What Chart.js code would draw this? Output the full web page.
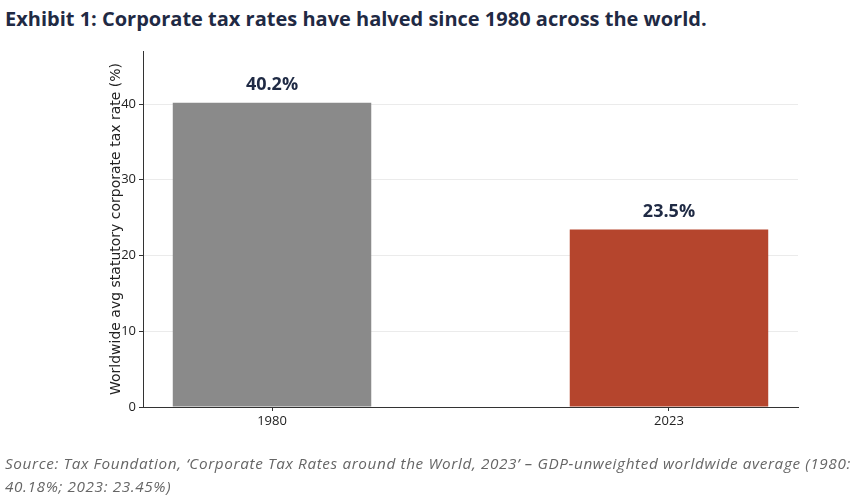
<!DOCTYPE html>
<html lang="en">
<head>
    <meta charset="UTF-8">
    <title>Corporate tax rates</title>
    <script src="https://cdn.jsdelivr.net/npm/chart.js"></script>
    <style>
        body {
            margin: 0;
            width: 853px;
            height: 499px;
            position: relative;
            overflow: hidden;
            background: #fff;
            font-family: "Open Sans", sans-serif;
        }

        .title {
            position: absolute;
            left: 5px;
            top: 5px;
            font-size: 20px;
            font-weight: bold;
            color: #1f2a44;
            white-space: nowrap;
        }

        .note {
            position: absolute;
            left: 5px;
            top: 452px;
            width: 848px;
            font-size: 15.3px;
            letter-spacing: 0.62px;
            line-height: 23px;
            font-style: italic;
            color: #666;
            white-space: nowrap;
        }

        #chart {
            position: absolute;
            left: 0;
            top: 0;
        }
    </style>
</head>
<body>
    <div class="title">Exhibit 1: Corporate tax rates have halved since 1980 across the world.</div>
    <canvas id="chart" width="853" height="499"></canvas>
    <div class="note">Source: Tax Foundation, ‘Corporate Tax Rates around the World, 2023’ – GDP-unweighted worldwide average (1980:<br>40.18%; 2023: 23.45%)</div>

    <script>
        const years = ['1980', '2023'];
        const rates = [40.18, 23.45];
        const rateLabels = ['40.2%', '23.5%'];
        const barColors = ['#8a8a8a', '#b5452d'];
        const yTicks = [0, 10, 20, 30, 40];

        // labels above the bars
        const valueLabels = {
            id: 'valueLabels',
            afterDatasetsDraw(chart) {
                const ctx = chart.ctx;
                const meta = chart.getDatasetMeta(0);
                ctx.save();
                ctx.font = 'bold 18px "Open Sans", sans-serif';
                ctx.fillStyle = '#1f2a44';
                ctx.textAlign = 'center';
                ctx.textBaseline = 'bottom';
                meta.data.forEach((bar, i) => {
                    ctx.fillText(rateLabels[i], bar.x, bar.y - 9);
                });
                ctx.restore();
            }
        };

        new Chart(document.getElementById('chart'), {
            type: 'bar',
            data: {
                datasets: [{
                    data: years.map((y, i) => ({ x: i, y: rates[i] })),
                    backgroundColor: barColors,
                    barPercentage: 0.5,
                    categoryPercentage: 1
                }]
            },
            options: {
                responsive: false,
                animation: false,
                layout: {
                    padding: { left: 108, right: 55, top: 51, bottom: 0 }
                },
                plugins: {
                    legend: { display: false },
                    tooltip: { enabled: false }
                },
                scales: {
                    x: {
                        type: 'linear',
                        min: -0.325,
                        max: 1.325,
                        offset: false,
                        afterBuildTicks: axis => { axis.ticks = years.map((y, i) => ({ value: i })); },
                        afterFit: axis => { axis.height = 92; },
                        grid: { offset: false, drawOnChartArea: false, drawTicks: true, tickLength: 4, tickColor: '#333' },
                        border: { color: '#333', width: 1 },
                        ticks: {
                            callback: v => years[v],
                            color: '#222',
                            padding: 2,
                            maxRotation: 0,
                            font: { size: 13, family: '"Open Sans", sans-serif' }
                        }
                    },
                    y: {
                        min: 0,
                        max: 47,
                        afterBuildTicks: axis => { axis.ticks = yTicks.map(v => ({ value: v })); },
                        afterFit: axis => { axis.width = 35; },
                        grid: { color: '#ebebeb', tickColor: '#333', tickLength: 4 },
                        border: { color: '#333', width: 1 },
                        ticks: {
                            color: '#222',
                            padding: 3,
                            font: { size: 13, family: '"Open Sans", sans-serif' }
                        },
                        title: {
                            display: true,
                            text: 'Worldwide avg statutory corporate tax rate (%)',
                            color: '#222',
                            padding: { top: 0, bottom: 0 },
                            font: { size: 14, family: '"DejaVu Sans", sans-serif' }
                        }
                    }
                }
            },
            plugins: [valueLabels]
        });
    </script>
</body>
</html>
